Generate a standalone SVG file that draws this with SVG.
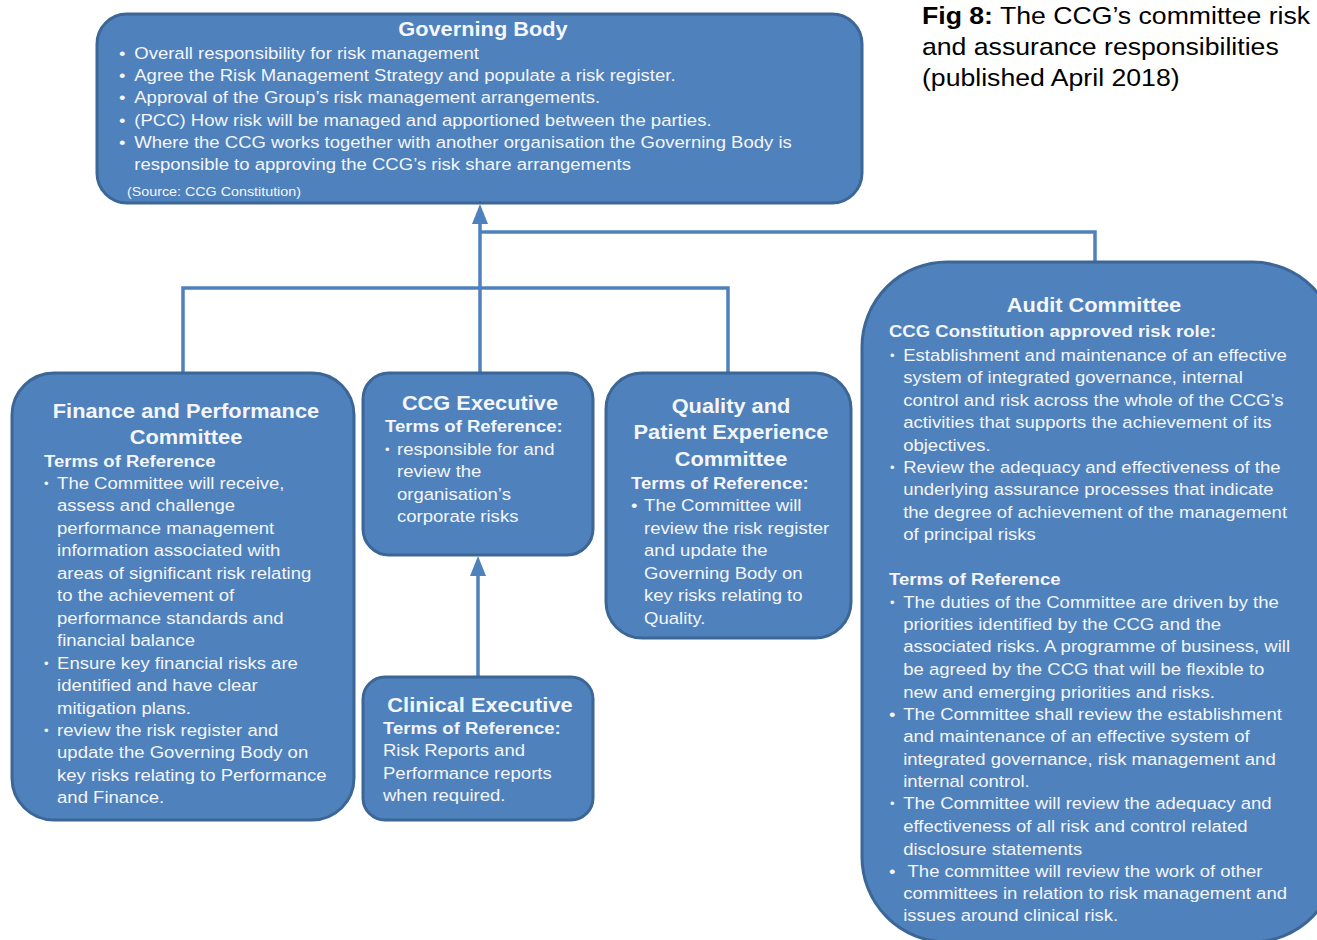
<svg xmlns="http://www.w3.org/2000/svg" width="1317" height="940" viewBox="0 0 1317 940">
<style>
.box{fill:#4f81bd;stroke:#3c6696;stroke-width:3}
.con{fill:none;stroke:#4f81bd;stroke-width:3.5}
text{font-family:"Liberation Sans",Arial,sans-serif}
.t{fill:#f4f6fa;font-size:17px}
.h{fill:#f4f6fa;font-size:20px;font-weight:bold;text-anchor:middle}
.s{fill:#f4f6fa;font-size:17px;font-weight:bold}
.src{fill:#f4f6fa;font-size:13px}
.cap{fill:#000;font-size:24px}
.bl{font-size:12px}
</style>
<defs>
<marker id="arr" viewBox="0 0 20 16" refX="0" refY="8" markerWidth="20" markerHeight="16" markerUnits="userSpaceOnUse" orient="auto">
<path d="M0,0 L20,8 L0,16 z" fill="#4f81bd"/>
</marker>
</defs>

<g id="connectors">
<path class="con" d="M480,373 V224" marker-end="url(#arr)"/>
<path class="con" d="M183,373 V288 H728 V373"/>
<path class="con" d="M480,232 H1095 V262"/>
<path class="con" d="M478,677 V576" marker-end="url(#arr)"/>
</g>

<g id="caption" transform="matrix(1.11 0 0 1 -101.42 0)">
<text class="cap" x="922" y="24"><tspan font-weight="bold">Fig 8:</tspan> The CCG’s committee risk</text>
<text class="cap" x="922" y="55">and assurance responsibilities</text>
<text class="cap" x="922" y="86">(published April 2018)</text>
</g>

<g id="governing-body">
<rect class="box" x="97" y="14" width="765" height="189" rx="30"/>
<text class="h" x="483" y="36" transform="matrix(1.09 0 0 1 -43.47 0)">Governing  Body</text>
<g class="t" transform="matrix(1.09 0 0 1 -10.71 0)">
<text x="119" y="59">•</text><text x="133" y="59">Overall responsibility for risk management</text>
<text x="119" y="81">•</text><text x="133" y="81">Agree the Risk Management Strategy and populate a risk register.</text>
<text x="119" y="103">•</text><text x="133" y="103">Approval of the Group’s risk management arrangements.</text>
<text x="119" y="126">•</text><text x="133" y="126">(PCC) How  risk will  be managed and apportioned between the parties.</text>
<text x="119" y="148">•</text><text x="133" y="148">Where the CCG works  together with another organisation the  Governing Body is</text>
<text x="133" y="170">responsible to approving the CCG’s  risk share arrangements</text>
</g>
<text class="src" x="127" y="196" transform="matrix(1.1 0 0 1 -12.7 0)">(Source:  CCG  Constitution)</text>
</g>

<g id="finance-performance">
<rect class="box" x="12" y="373" width="342" height="447" rx="42"/>
<g transform="matrix(1.09 0 0 1 -16.74 0)">
<text class="h" x="186" y="418">Finance  and Performance</text>
<text class="h" x="186" y="444">Committee</text>
</g>
<g transform="matrix(1.09 0 0 1 -3.96 0)">
<text class="s" x="44" y="467">Terms of Reference</text>
<g class="t">
<text class="bl" x="44" y="488">•</text><text x="56" y="489">The Committee  will  receive,</text>
<text x="56" y="511">assess and challenge</text>
<text x="56" y="534">performance management</text>
<text x="56" y="556">information associated with</text>
<text x="56" y="579">areas of significant risk relating</text>
<text x="56" y="601">to the achievement  of</text>
<text x="56" y="624">performance standards and</text>
<text x="56" y="646">financial balance</text>
<text class="bl" x="44" y="668">•</text><text x="56" y="669">Ensure key financial risks are</text>
<text x="56" y="691">identified and have clear</text>
<text x="56" y="714">mitigation plans.</text>
<text class="bl" x="44" y="735">•</text><text x="56" y="736">review the risk register and</text>
<text x="56" y="758">update the Governing Body  on</text>
<text x="56" y="781">key risks relating to Performance</text>
<text x="56" y="803">and Finance.</text>
</g>
</g>
</g>

<g id="ccg-executive">
<rect class="box" x="363" y="373" width="230" height="182" rx="26"/>
<text class="h" x="480" y="410" transform="matrix(1.09 0 0 1 -43.2 0)">CCG Executive</text>
<g transform="matrix(1.09 0 0 1 -34.65 0)">
<text class="s" x="385" y="432">Terms of Reference:</text>
<g class="t">
<text class="bl" x="385" y="454">•</text><text x="396" y="455">responsible for and</text>
<text x="396" y="477">review the</text>
<text x="396" y="500">organisation’s</text>
<text x="396" y="522">corporate risks</text>
</g>
</g>
</g>

<g id="clinical-executive">
<rect class="box" x="363" y="677" width="230" height="143" rx="22"/>
<text class="h" x="480" y="712" transform="matrix(1.09 0 0 1 -43.2 0)">Clinical  Executive</text>
<g transform="matrix(1.09 0 0 1 -34.47 0)">
<text class="s" x="383" y="734">Terms of Reference:</text>
<g class="t">
<text x="383" y="756">Risk Reports and</text>
<text x="383" y="779">Performance reports</text>
<text x="383" y="801">when  required.</text>
</g>
</g>
</g>

<g id="quality-patient-experience">
<rect class="box" x="606" y="373" width="245" height="265" rx="36"/>
<g transform="matrix(1.09 0 0 1 -65.79 0)">
<text class="h" x="731" y="413">Quality  and</text>
<text class="h" x="731" y="439">Patient  Experience</text>
<text class="h" x="731" y="466">Committee</text>
</g>
<g transform="matrix(1.09 0 0 1 -56.79 0)">
<text class="s" x="631" y="489">Terms of Reference:</text>
<g class="t">
<text x="631" y="511">•</text><text x="643" y="511">The Committee  will</text>
<text x="643" y="534">review the risk register</text>
<text x="643" y="556">and update the</text>
<text x="643" y="579">Governing Body on</text>
<text x="643" y="601">key risks relating to</text>
<text x="643" y="624">Quality.</text>
</g>
</g>
</g>

<g id="audit-committee">
<rect class="box" x="862" y="262" width="475" height="680" rx="85"/>
<text class="h" x="1094" y="312" transform="matrix(1.09 0 0 1 -98.46 0)">Audit  Committee</text>
<g transform="matrix(1.09 0 0 1 -80.01 0)">
<text class="s" x="889" y="337">CCG Constitution approved risk role:</text>
<g class="t">
<text class="bl" x="890" y="360">•</text><text x="902" y="361">Establishment  and maintenance of an effective</text>
<text x="902" y="383">system of integrated governance, internal</text>
<text x="902" y="406">control and risk across the whole of the CCG’s</text>
<text x="902" y="428">activities that supports the achievement  of its</text>
<text x="902" y="451">objectives.</text>
<text class="bl" x="890" y="472">•</text><text x="902" y="473">Review  the adequacy and effectiveness of the</text>
<text x="902" y="495">underlying assurance processes that indicate</text>
<text x="902" y="518">the degree of achievement  of the management</text>
<text x="902" y="540">of principal risks</text>
</g>
<text class="s" x="889" y="585">Terms of Reference</text>
<g class="t">
<text class="bl" x="890" y="607">•</text><text x="902" y="608">The duties of the Committee  are driven by the</text>
<text x="902" y="630">priorities identified by the CCG and the</text>
<text x="902" y="652">associated risks. A  programme  of business, will</text>
<text x="902" y="675">be agreed by the CCG that will  be flexible  to</text>
<text x="902" y="698">new and emerging priorities and risks.</text>
<text x="889" y="720">•</text><text x="902" y="720">The Committee  shall review the establishment</text>
<text x="902" y="742">and maintenance of an effective system of</text>
<text x="902" y="765">integrated governance, risk management and</text>
<text x="902" y="787">internal control.</text>
<text class="bl" x="890" y="808">•</text><text x="902" y="809">The Committee  will  review  the adequacy and</text>
<text x="902" y="832">effectiveness of all risk and control related</text>
<text x="902" y="855">disclosure statements</text>
<text x="889" y="877">•</text><text x="906" y="877">The committee  will  review the work of other</text>
<text x="902" y="899">committees  in relation to risk management and</text>
<text x="902" y="921">issues around clinical  risk.</text>
</g>
</g>
</g>
</svg>
